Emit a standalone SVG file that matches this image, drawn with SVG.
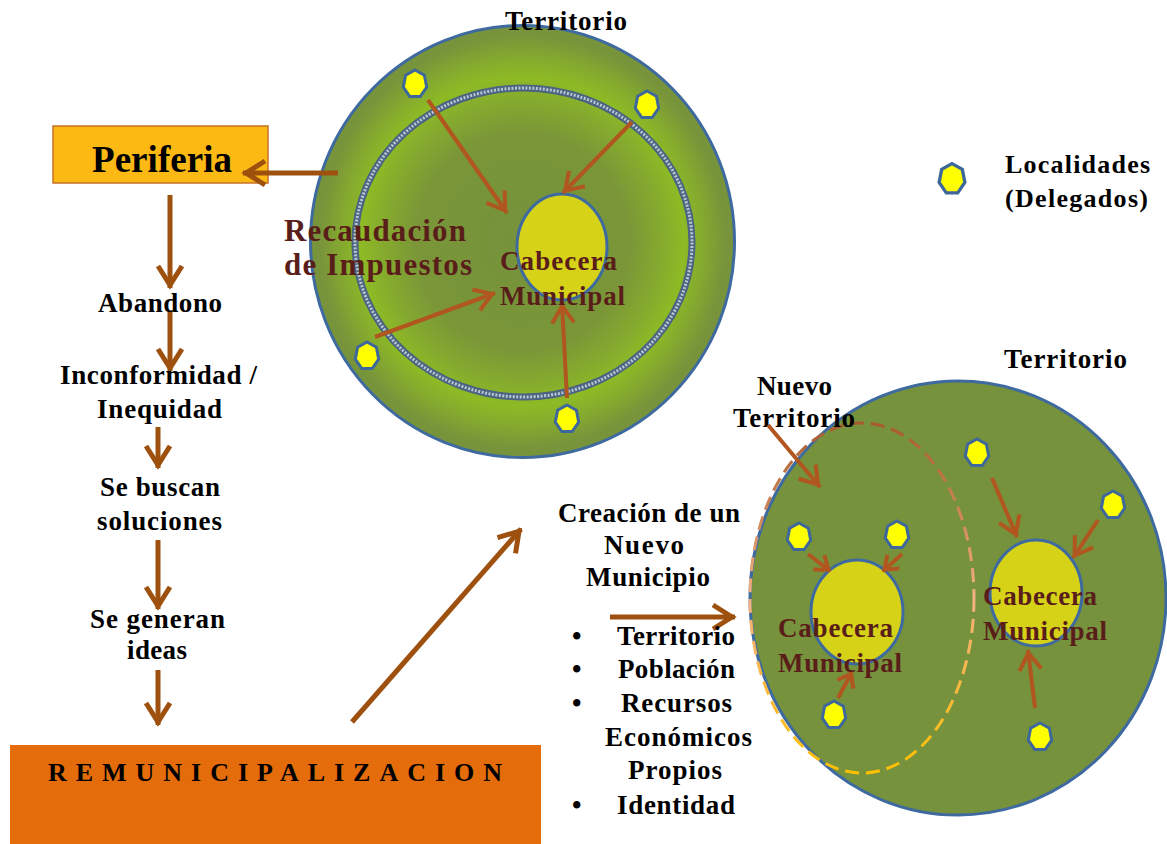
<svg xmlns="http://www.w3.org/2000/svg" width="1167" height="844" viewBox="0 0 1167 844">
<style>
text{font-family:"Liberation Serif","Times New Roman",serif;font-weight:bold;fill:#000;}
.lbl{font-size:27px;}
.red{fill:#5A1E1A;}
.loc{fill:#FFFF00;stroke:#3E679C;stroke-width:3;}
.cab{fill:#D5D218;stroke:#3E6AA0;stroke-width:3;}
.arL{fill:none;stroke:#9E500F;stroke-width:5;}
.arC{fill:none;stroke:#B0561E;stroke-width:4;}
</style>
<defs>
<radialGradient id="gTop" cx="0.5" cy="0.5" r="0.5">
<stop offset="0" stop-color="#76923C"/>
<stop offset="0.5" stop-color="#7A9638"/>
<stop offset="0.67" stop-color="#86AC2D"/>
<stop offset="0.76" stop-color="#8EBA25"/>
<stop offset="0.84" stop-color="#86AC2D"/>
<stop offset="0.95" stop-color="#79953A"/>
<stop offset="1" stop-color="#76923C"/>
</radialGradient>
<linearGradient id="gDash" x1="0" y1="0" x2="0" y2="1">
<stop offset="0" stop-color="#A85A2E"/>
<stop offset="0.5" stop-color="#F4B183"/>
<stop offset="1" stop-color="#FFC000"/>
</linearGradient>
<polygon id="hep" points="0,-14 9.4,-8.7 11.7,3.1 5.2,12.6 -5.2,12.6 -11.7,3.1 -9.4,-8.7"/>
<marker id="ahL" markerUnits="userSpaceOnUse" viewBox="-30 -16 34 32" markerWidth="34" markerHeight="32" refX="0" refY="0" orient="auto" overflow="visible">
<path d="M-22,-12 L-3,0 L-22,12" fill="none" stroke="#9E500F" stroke-width="5"/>
</marker>
<marker id="ahC" markerUnits="userSpaceOnUse" viewBox="-30 -16 34 32" markerWidth="34" markerHeight="32" refX="0" refY="0" orient="auto" overflow="visible">
<path d="M-20,-11 L-3,0 L-20,11" fill="none" stroke="#B0561E" stroke-width="4"/>
</marker>
<marker id="ahS" markerUnits="userSpaceOnUse" viewBox="-20 -12 24 24" markerWidth="24" markerHeight="24" refX="0" refY="0" orient="auto" overflow="visible">
<path d="M-14,-9 L-2,0 L-14,9" fill="none" stroke="#B0561E" stroke-width="4"/>
</marker>
</defs>

<g id="territorio-actual">
<ellipse cx="522.5" cy="241.5" rx="212" ry="216" fill="url(#gTop)" stroke="#3E6AA0" stroke-width="3"/>
<ellipse cx="523.5" cy="242.5" rx="168.5" ry="154.5" fill="none" stroke="#4A6482" stroke-width="7"/>
<ellipse cx="523.5" cy="242.5" rx="168.5" ry="154.5" fill="none" stroke="#BAC6D2" stroke-width="3" stroke-dasharray="2 1.5"/>
<ellipse class="cab" cx="562" cy="247" rx="45" ry="53"/>
<text x="505" y="30" class="lbl" textLength="122" lengthAdjust="spacing">Territorio</text>
</g>

<g id="territorio-nuevo">
<ellipse cx="958" cy="598" rx="208" ry="217" fill="#76923C" stroke="#3E6AA0" stroke-width="3"/>
<ellipse cx="862" cy="598" rx="112" ry="175" fill="none" stroke="url(#gDash)" stroke-width="3" stroke-dasharray="14 7"/>
<ellipse class="cab" cx="857" cy="612" rx="46" ry="52"/>
<ellipse class="cab" cx="1036" cy="593" rx="46" ry="53"/>
<text x="1004" y="368" class="lbl" textLength="123" lengthAdjust="spacing">Territorio</text>
<text x="757" y="395" class="lbl" textLength="75" lengthAdjust="spacing">Nuevo</text>
<text x="733" y="427" class="lbl" textLength="122" lengthAdjust="spacing">Territorio</text>
</g>

<g id="localidades">
<use href="#hep" class="loc" x="415" y="84"/>
<use href="#hep" class="loc" x="647" y="105"/>
<use href="#hep" class="loc" x="367" y="356"/>
<use href="#hep" class="loc" x="567" y="419"/>
<use href="#hep" class="loc" x="799" y="537"/>
<use href="#hep" class="loc" x="897" y="535"/>
<use href="#hep" class="loc" x="834" y="715"/>
<use href="#hep" class="loc" x="977" y="453"/>
<use href="#hep" class="loc" x="1113" y="505"/>
<use href="#hep" class="loc" x="1040" y="737"/>
</g>

<g id="leyenda">
<use href="#hep" class="loc" x="952" y="179" transform="translate(952 179) scale(1.1) translate(-952 -179)"/>
<text x="1005" y="173" style="font-size:26px" textLength="145" lengthAdjust="spacing">Localidades</text>
<text x="1005" y="207" style="font-size:26px" textLength="143" lengthAdjust="spacing">(Delegados)</text>
</g>

<g id="periferia">
<rect x="53" y="126" width="215" height="57" fill="#FDB913" stroke="#C5722A" stroke-width="1.5"/>
<text x="92" y="172" style="font-size:37px" textLength="140" lengthAdjust="spacing">Periferia</text>
</g>

<g id="remunicipalizacion">
<rect x="10" y="745" width="531" height="100" fill="#E46C0A"/>
<text x="48" y="781" style="font-size:26px" textLength="454" lengthAdjust="spacing">REMUNICIPALIZACION</text>
</g>

<g id="connectors">
<line class="arL" x1="338" y1="173" x2="243" y2="173" marker-end="url(#ahL)"/>
<line class="arL" x1="170" y1="195" x2="170" y2="288" marker-end="url(#ahL)"/>
<line class="arL" x1="170" y1="312" x2="170" y2="371" marker-end="url(#ahL)"/>
<line class="arL" x1="158" y1="427" x2="158" y2="468" marker-end="url(#ahL)"/>
<line class="arL" x1="158" y1="540" x2="158" y2="609" marker-end="url(#ahL)"/>
<line class="arL" x1="158" y1="670" x2="158" y2="725" marker-end="url(#ahL)"/>
<line class="arL" x1="352" y1="722" x2="521" y2="529" marker-end="url(#ahL)"/>
<line class="arL" x1="610" y1="617" x2="735" y2="617" marker-end="url(#ahL)"/>
<line class="arC" x1="428" y1="100" x2="507" y2="213" marker-end="url(#ahC)"/>
<line class="arC" x1="632" y1="122" x2="563" y2="193" marker-end="url(#ahC)"/>
<line class="arC" x1="375" y1="337" x2="495" y2="293" marker-end="url(#ahC)"/>
<line class="arC" x1="567" y1="398" x2="562" y2="303" marker-end="url(#ahC)"/>
<line class="arC" x1="768" y1="425" x2="820" y2="487" marker-end="url(#ahC)"/>
<line class="arC" x1="808" y1="554" x2="830" y2="571" marker-end="url(#ahS)"/>
<line class="arC" x1="902" y1="554" x2="883" y2="571" marker-end="url(#ahS)"/>
<line class="arC" x1="838" y1="698" x2="852" y2="672" marker-end="url(#ahS)"/>
<line class="arC" x1="992" y1="478" x2="1017" y2="537" marker-end="url(#ahC)"/>
<line class="arC" x1="1098" y1="520" x2="1073" y2="558" marker-end="url(#ahC)"/>
<line class="arC" x1="1035" y1="708" x2="1028" y2="650" marker-end="url(#ahC)"/>
</g>

<g id="textos-circulo">
<text x="284" y="241" class="red" style="font-size:31px" textLength="182" lengthAdjust="spacing">Recaudación</text>
<text x="284" y="275" class="red" style="font-size:31px" textLength="188" lengthAdjust="spacing">de Impuestos</text>
<text x="500" y="270" class="red" style="font-size:27px" textLength="117" lengthAdjust="spacing">Cabecera</text>
<text x="500" y="305" class="red" style="font-size:27px" textLength="125" lengthAdjust="spacing">Municipal</text>
<text x="778" y="637" class="red" style="font-size:27px" textLength="115" lengthAdjust="spacing">Cabecera</text>
<text x="778" y="672" class="red" style="font-size:27px" textLength="124" lengthAdjust="spacing">Municipal</text>
<text x="983" y="605" class="red" style="font-size:27px" textLength="114" lengthAdjust="spacing">Cabecera</text>
<text x="983" y="640" class="red" style="font-size:27px" textLength="124" lengthAdjust="spacing">Municipal</text>
</g>

<g id="proceso">
<text x="98" y="312" class="lbl" textLength="124" lengthAdjust="spacing">Abandono</text>
<text x="60" y="384" class="lbl" textLength="197" lengthAdjust="spacing">Inconformidad /</text>
<text x="97" y="418" class="lbl" textLength="125" lengthAdjust="spacing">Inequidad</text>
<text x="100" y="496" class="lbl" textLength="120" lengthAdjust="spacing">Se buscan</text>
<text x="97" y="530" class="lbl" textLength="125" lengthAdjust="spacing">soluciones</text>
<text x="90" y="628" class="lbl" textLength="135" lengthAdjust="spacing">Se generan</text>
<text x="127" y="659" class="lbl" textLength="60" lengthAdjust="spacing">ideas</text>
</g>

<g id="nuevo-municipio">
<text x="558" y="522" class="lbl" textLength="182" lengthAdjust="spacing">Creación de un</text>
<text x="604" y="554" class="lbl" textLength="80" lengthAdjust="spacing">Nuevo</text>
<text x="586" y="586" class="lbl" textLength="124" lengthAdjust="spacing">Municipio</text>
<text x="572" y="645" class="lbl">•</text>
<text x="617" y="645" class="lbl" textLength="118" lengthAdjust="spacing">Territorio</text>
<text x="572" y="678" class="lbl">•</text>
<text x="618" y="678" class="lbl" textLength="117" lengthAdjust="spacing">Población</text>
<text x="572" y="712" class="lbl">•</text>
<text x="621" y="712" class="lbl" textLength="111" lengthAdjust="spacing">Recursos</text>
<text x="605" y="746" class="lbl" textLength="147" lengthAdjust="spacing">Económicos</text>
<text x="628" y="779" class="lbl" textLength="94" lengthAdjust="spacing">Propios</text>
<text x="572" y="814" class="lbl">•</text>
<text x="617" y="814" class="lbl" textLength="118" lengthAdjust="spacing">Identidad</text>
</g>
</svg>
